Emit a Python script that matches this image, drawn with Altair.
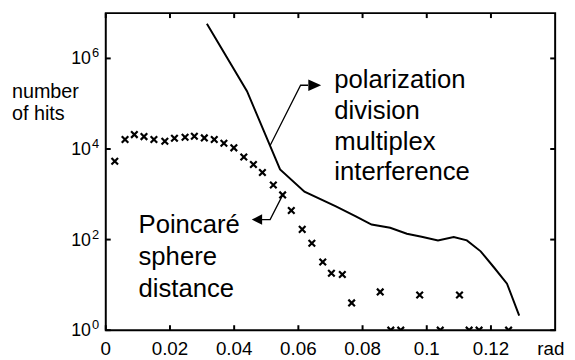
import altair as alt
import pandas as pd

# Poincaré sphere distance histogram (crosses)
cross_x = [0.0028, 0.0060, 0.0089, 0.0119, 0.0150, 0.0184, 0.0214, 0.0247, 0.0276, 0.0307,
           0.0338, 0.0368, 0.0399, 0.0430, 0.0460, 0.0488, 0.0522, 0.0551, 0.0578, 0.0612,
           0.0642, 0.0676, 0.0703, 0.0737, 0.0766, 0.0855, 0.0888, 0.0919, 0.0978, 0.1042,
           0.1102, 0.1132, 0.1163, 0.1255]
cross_y = [5360, 16200, 20800, 18800, 16200, 14800, 17300, 18200, 19100, 17600,
           16200, 13400, 10600, 6650, 4540, 3040, 1600, 970, 440, 168,
           83, 32, 18, 17, 4, 7, 1, 1, 6, 1,
           6, 1, 1, 1]

# polarization division multiplex interference (line)
line_x = [0.0315, 0.0440, 0.0543, 0.0619, 0.0717, 0.0779, 0.0828, 0.0886, 0.0938, 0.0984,
          0.1035, 0.1084, 0.1125, 0.1168, 0.1209, 0.1250, 0.1288]
line_y = [5840000, 189000, 3530, 1146, 540, 327, 215, 182, 135, 116,
          96, 114, 96, 55, 24.5, 10.6, 2.1]

xtick_vals = [0, 0.02, 0.04, 0.06, 0.08, 0.1, 0.12]
xtick_labels = ["0", "0.02", "0.04", "0.06", "0.08", "0.1", "0.12"]
ytick_vals = [1, 100, 10000, 1000000]
ytick_exp = ["0", "2", "4", "6"]

# annotation anchors (data coordinates)
ann1_x, ann1_y = [0.0712], [216800]
ann1_text = ["polarization\ndivision\nmultiplex\ninterference"]
ann2_x, ann2_y = [0.0102], [142]
ann2_text = ["Poincaré\nsphere\ndistance"]

arrow1_x = [0.0512, 0.0607, 0.0630]
arrow1_y = [11970, 255800, 255800]
arrow2_x = [0.0551, 0.0512, 0.0486]
arrow2_y = [960, 277, 277]
head1_x, head1_y = [0.0651], [255800]
head2_x, head2_y = [0.0471], [277]

W, H = 455, 321
FONT = "Liberation Sans"

xs = alt.Scale(domain=[0, 0.14], nice=False, zero=False)
ys = alt.Scale(type="log", domain=[1, 1e7], nice=False)

df_line = pd.DataFrame({"x": line_x, "y": line_y})
df_cross = pd.DataFrame({"x": cross_x, "y": cross_y})
df_xt = pd.DataFrame({"x": xtick_vals, "t": xtick_labels})
df_yt = pd.DataFrame({"y": ytick_vals, "e": ytick_exp})

X = lambda: alt.X("x:Q", scale=xs, axis=None)
Y = lambda: alt.Y("y:Q", scale=ys, axis=None)

line = alt.Chart(df_line).mark_line(color="black", strokeWidth=2, clip=True).encode(x=X(), y=Y())

crosses = alt.Chart(df_cross).mark_point(
    shape="M-1,-1L1,1M-1,1L1,-1", filled=False, stroke="black", strokeWidth=2.2,
    size=44, opacity=1, clip=True
).encode(x=X(), y=Y())

tick_b = alt.Chart(df_xt).mark_rule(color="black", strokeWidth=2).encode(
    x=X(), y=alt.value(H), y2=alt.value(H - 5))
tick_t = alt.Chart(df_xt).mark_rule(color="black", strokeWidth=2).encode(
    x=X(), y=alt.value(0), y2=alt.value(5))
tick_l = alt.Chart(df_yt).mark_rule(color="black", strokeWidth=2).encode(
    y=Y(), x=alt.value(0), x2=alt.value(5))
tick_r = alt.Chart(df_yt).mark_rule(color="black", strokeWidth=2).encode(
    y=Y(), x=alt.value(W - 5), x2=alt.value(W))

xlab = alt.Chart(df_xt).mark_text(font=FONT, fontSize=19, baseline="alphabetic", align="center").encode(
    x=X(), y=alt.value(H + 25), text="t:N")
rad = alt.Chart(df_xt.head(1)).mark_text(font=FONT, fontSize=19, baseline="alphabetic", align="left",
                                         text="rad").encode(x=alt.value(437), y=alt.value(H + 25))

ylab = alt.Chart(df_yt).mark_text(font=FONT, fontSize=18, baseline="alphabetic", align="right",
                                  text="10", dy=6).encode(x=alt.value(-15), y=Y())
yexp = alt.Chart(df_yt).mark_text(font=FONT, fontSize=13, baseline="alphabetic", align="left",
                                  dy=-1).encode(x=alt.value(-14), y=Y(), text="e:N")

ytitle = alt.Chart(df_yt.head(1)).mark_text(
    font=FONT, fontSize=20, baseline="alphabetic", align="left", lineBreak="\n", lineHeight=22,
    text="number\nof hits").encode(x=alt.value(-95), y=alt.value(86))

ann1 = alt.Chart(pd.DataFrame({"x": ann1_x, "y": ann1_y, "t": ann1_text})).mark_text(
    font=FONT, fontSize=26, baseline="alphabetic", align="left", lineBreak="\n", lineHeight=31
).encode(x=X(), y=Y(), text="t:N")
ann2 = alt.Chart(pd.DataFrame({"x": ann2_x, "y": ann2_y, "t": ann2_text})).mark_text(
    font=FONT, fontSize=26, baseline="alphabetic", align="left", lineBreak="\n", lineHeight=32.5
).encode(x=X(), y=Y(), text="t:N")

df_arrows = pd.DataFrame({
    "x": arrow1_x + arrow2_x,
    "y": arrow1_y + arrow2_y,
    "g": ["a"] * 3 + ["b"] * 3,
    "o": [0, 1, 2, 0, 1, 2],
})
arrows = alt.Chart(df_arrows).mark_line(color="black", strokeWidth=1.3).encode(
    x=X(), y=Y(), detail="g:N", order="o:Q")

head1 = alt.Chart(pd.DataFrame({"x": head1_x, "y": head1_y})).mark_point(
    shape="M-1,-0.9L1,0L-1,0.9Z", filled=True, fill="black", size=169, opacity=1
).encode(x=X(), y=Y())
head2 = alt.Chart(pd.DataFrame({"x": head2_x, "y": head2_y})).mark_point(
    shape="M1,-1L-1,0L1,1Z", filled=True, fill="black", size=110, opacity=1
).encode(x=X(), y=Y())

chart = alt.layer(
    line, crosses, arrows, head1, head2, ann1, ann2,
    tick_b, tick_t, tick_l, tick_r, xlab, rad, ylab, yexp, ytitle
).properties(
    width=W, height=H,
    autosize=alt.AutoSizeParams(type="none"),
    padding={"left": 99, "top": 3, "right": 12, "bottom": 27},
    background="white",
).configure_view(stroke="black", strokeWidth=2)

chart.save("out.html", embed_options={"renderer": "svg", "actions": False})
